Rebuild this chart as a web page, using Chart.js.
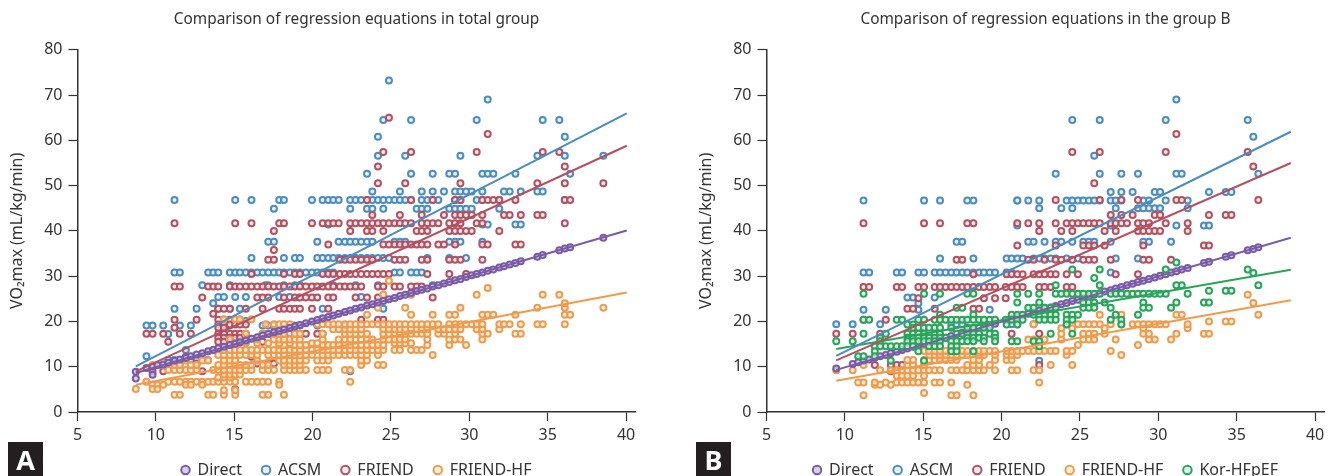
<!DOCTYPE html>
<html><head><meta charset="utf-8">
<script src="https://cdn.jsdelivr.net/npm/chart.js@4/dist/chart.umd.min.js"></script>
<style>
html,body{margin:0;padding:0;background:#fff;width:1333px;height:476px;overflow:hidden}
.panel{position:absolute;top:0}
.badge{position:absolute;top:442px;width:35px;height:34px;background:#231f20;color:#fff;font:bold 27px "Noto Sans",sans-serif;line-height:36px;text-align:center}
</style></head><body>
<canvas id="a" class="panel" style="left:0"></canvas>
<canvas id="b" class="panel" style="left:689px"></canvas>
<div class="badge" style="left:8px">A</div>
<div class="badge" style="left:696px">B</div>
<script>
const titleA = 'Comparison of regression equations in total group';
const titleB = 'Comparison of regression equations in the group B';
const yTitle = 'VO\u2082max (mL/kg/min)';
const xTicksMin = 5, xTicksMax = 40.6, yTicksMax = 80;

// Each row: [y value, [x values at that y]]
const aACSM = [
 [46.8,[11.19,15.06,16.1,17.87,18.17,19.96,20.64,21,21.32,21.66,22.4,22.74,23.1,23.47,23.81,24.17,24.51,24.87,25.23,25.57,25.91,26.28,26.96,27.32,27.66,28.02,29.09,29.43,30.47,30.83,31.91,36.09]],
 [44.9,[17.53,22.4,23.47,23.81,24.51,26.64,26.96,27.32,28.72,29.09,29.43,29.79,30.15,31.91]],
 [48.7,[23.81,25.57,26.96,27.66,28.38,29.09,29.43,29.79,30.15,30.83,32.21,32.57,33.28,34.34,34.68]],
 [52.6,[23.47,26.28,27.66,28.72,29.09,30.83,31.17,31.53,32.94,36.43]],
 [56.6,[24.17,25.91,29.43,34.34,36.09,38.55]],
 [60.8,[24.17,36.09]],
 [64.5,[24.51,26.28,30.47,34.68,35.74]],
 [69,[31.17]],
 [73.2,[24.87]],
 [41.4,[21,30.83,31.17,32.94,33.28]],
 [37.6,[17.17,17.53,20.3,21.66,22.06,22.4,22.74,23.1,23.47,23.81,25.23,25.57,25.91,28.72,29.09,29.43,30.83]],
 [34,[16.1,18.17,18.87,19.19,20.3,20.64,21,21.32,21.66,22.06,22.4,22.74,23.1,23.47,23.81,24.17,24.51,24.87,27.32,28.72,29.79]],
 [30.8,[11.19,11.53,13.34,13.66,13.98,14.72,15.06,15.36,15.74,16.1,16.47,16.81,17.17,17.53,17.87,18.17,18.55,18.87,19.19,19.57,19.96,20.3,20.64,21,21.32,25.23,25.57,26.28,26.64,26.96]],
 [28,[12.96,14.72,17,17.17,18.17,18.87,19.19,21.32,22.74,24.17,27.66]],
 [25.4,[13.98,14.34,15.06,15.74,17.87,18.55,23.1]],
 [24,[13.66]],
 [22.8,[11.19,12.6,13.98,14.72,15.36,20.64,24.51]],
 [20.1,[14.34,14.72,15.36,15.74]],
 [19.1,[9.4,9.79,10.47,11.53,12.23,14.34,14.72,16.81,17.17,17.53,18.87,19.19,20.3,22.06]],
 [17.2,[10.79]],
 [16,[14.72,15.06,15.36,15.74]],
 [13.7,[11.91]],
 [12.3,[9.4]],
 [11.5,[10.79,11.19,11.53,12.23,12.6,13.3]],
 [9,[22.4]]
];
const aFRIEND = [
 [41.7,[11.19,15.06,16.1,17.87,18.17,19.96,20.64,21,21.32,21.66,22.4,22.74,23.1,23.47,23.81,24.17,24.51,24.87,25.23,25.57,25.91,26.28,26.96,27.32,27.66,28.02,28.72,29.09,29.43,30.47,30.83,36.09]],
 [43.5,[23.81,25.57,26.96,28.38,29.09,29.43,29.79,30.15,30.83,32.21,32.57,33.28,34.34,34.68]],
 [40,[17.53,22.4,23.47,23.81,24.51,26.64,26.96,27.32,28.72,29.09,29.43,29.79,30.15,31.91]],
 [46.8,[23.47,26.28,27.66,29.09,29.43,30.83,31.17,31.53,31.91,32.94,36.09,36.43]],
 [50.5,[24.17,25.91,29.43,34.34,36.09,38.55]],
 [54.2,[24.17,36.09]],
 [57.4,[24.51,26.28,30.47,34.68,35.74]],
 [61.4,[31.17]],
 [65,[24.87]],
 [37,[21,24.51,24.87,25.23,25.57,25.91,26.28,26.64,26.96,27.32,28.02,28.38,29.09,30.83,31.17,32.94,33.28]],
 [35.8,[17.53]],
 [33.6,[17.17,17.53,21.74,22.06,22.4,22.74,23.1,23.47,23.81,25.23,25.57,25.91,26.96,27.32,28.72,29.09,29.43,30.83]],
 [30.5,[16.1,18.17,18.87,19.19,20.64,21,21.32,21.74,22.06,22.4,22.74,23.1,23.47,23.81,24.17,24.51,24.87,27.32,28.72,29.79]],
 [27.7,[11.19,11.53,13.34,13.66,13.98,14.72,15.06,15.36,15.74,16.1,16.47,16.81,17.17,17.53,17.87,18.17,18.55,18.87,19.19,19.57,19.96,20.3,20.64,21,21.32,21.74,22.06,22.4,22.74,23.1,24.17,24.51,25.23,25.57,26.28,26.64,26.96]],
 [25.3,[12.96,16.47,16.81,17.17,18.17,18.87,19.19,19.57,19.96,20.3,21,21.32,22.74,23.47,24.17,27.66]],
 [22.8,[13.98,14.34,14.72,15.74,16.81,17.87,18.17,18.55,18.87,19.19,19.96,21]],
 [21.7,[13.66]],
 [20.4,[11.19,12.6,13.98,14.34,14.72,15.06,15.36,23.1,24.17,24.51]],
 [19.3,[13.98,14.34,14.72,15.06,15.36,15.74]],
 [18.6,[11.19,13.98,14.34]],
 [17.3,[9.4,9.79,10.47,11.53,12.23,13.98,14.34,14.72,15.06,15.36,15.74,16.81,17.17,17.53,17.87,18.17,18.55,18.87,19.19,19.57,20.3,20.64]],
 [16.4,[13.98,14.34,14.72,15.06,15.36,15.74]],
 [15.5,[10.79,13.98,14.34,15.74,16.81]],
 [12.2,[11.91,16.1]],
 [10.7,[11.19,11.53,12.6,16.47,17.17,17.53]],
 [9,[9.79,10.47,12.96]],
 [5,[15.06]]
];
const aHF = [
 [3.8,[11.19,11.53,13.34,13.66,14.34,15.06,16.81,17.17,18.17]],
 [4.8,[14.34,15.06]],
 [6.7,[9.4,10.79,11.19,11.53,11.91,12.23,12.6,12.96,13.34,13.66,13.98,14.34,14.72,15.06,15.74,16.1,16.47,16.81,17.17,17.87,22.4]],
 [6,[9.79,10.1,10.47,11.91,12.23,12.96,17.87]],
 [5.1,[8.72,9.79,10.1]],
 [7.6,[13.98,14.34,14.72]],
 [8.3,[14.34,14.72,15.06,15.36]],
 [9.3,[10.79,11.19,11.53,11.91,12.23,12.6,13.66,13.98,14.34,14.72,15.06,15.36,15.74,16.1,16.81,17.17,17.53,18.17,18.55,18.87,19.19,19.57,20.3,20.64,21,22.06,22.4]],
 [10.4,[9.79,10.47,11.19,11.53,12.23,12.6,13.98,14.34,14.72,15.06,15.36,15.74,16.1,16.81,17.17,18.17,18.55,18.87,19.19,23.1,24.17,24.51]],
 [11.4,[11.91,12.96,13.34,14.34,14.72,15.06,16.47,17.87,18.17,18.55,18.87,19.19,19.57,20.3,20.64,21,23.1,23.47]],
 [12.6,[13.98,14.34,14.72,15.06,15.36,15.74,16.1,16.47,17.17,17.53,17.87,18.17,18.55,18.87,19.19,19.57,19.96,20.64,21,21.32,21.66,22.06,22.4,22.74,23.1,23.47,24.17,27.66]],
 [13.7,[13.66,14.34,14.72,15.06,15.36,15.74,16.1,16.47,16.81,17.17,17.53,17.87,18.17,18.55,18.87,19.19,19.57,19.96,20.3,20.64,21,21.32,21.66,22.06,22.4,22.74,23.1,23.47,23.81,24.17,24.51,25.23,25.57,26.28,26.64,26.96]],
 [14.8,[17.87,18.17,18.87,19.19,19.57,20.64,21,21.32,21.66,22.06,22.4,22.74,23.1,23.47,23.81,24.17,24.51,27.32,28.72,29.79]],
 [15.2,[15.06,15.74,16.47,17.17,17.87,18.55,19.96,20.3,25.23,25.57,25.91,26.28]],
 [16,[14.72,16.47,17.53,17.87,18.17,18.55,18.87,19.19,20.64,21.66,22.06,22.4,22.74,23.1,23.47,23.81,24.51,24.87,25.23,25.57,25.91,27.32,28.72,29.09,29.43,30.83]],
 [17.3,[15.74,16.81,17.17,17.53,17.87,18.17,18.87,19.19,20.64,22.06,22.4,22.74,23.1,23.47,24.51,24.87,25.23,25.57,25.91,26.28,26.64,26.96,27.32,28.02,28.38,29.09,30.83,31.17,32.94,33.28]],
 [18.3,[21.32,21.66,22.06,22.4,22.74,23.1,24.51,24.87,25.23,25.57,25.91,26.64,26.96,27.32,28.02,28.38,28.72,29.09,29.43,30.47,30.83,31.91]],
 [19.4,[17,17.53,17.87,18.17,18.55,20.3,20.64,21,21.32,21.66,22.06,22.4,22.74,23.1,23.47,23.81,24.17,24.51,24.87,25.23,25.57,25.91,26.28,26.64,26.96,27.32,27.66,28.02,28.72,29.09,29.43,29.79,30.15,30.47,30.83,31.91,32.21,32.57,33.28,34.34,34.68,36.09]],
 [20.5,[14.34,15.06,15.36,16.1,20.64]],
 [21.5,[23.47,26.28,27.66,28.72,29.09,30.83,31.17,31.53,32.94,36.09,36.43]],
 [23,[24.17,25.91,29.43,34.34,36.09,38.55]],
 [24,[36.09]],
 [25.9,[24.51,26.28,30.47,34.68,35.74]],
 [27.4,[31.17]],
 [29,[24.87]]
];
const aDirectX = [8.72,8.72,9.4,9.79,9.79,10.1,10.47,10.79,11.19,11.53,11.91,12.23,12.6,12.96,13.34,13.66,13.98,14.34,14.72,15.06,15.36,15.74,16.1,16.47,16.81,17.17,17.53,17.87,18.17,18.55,18.87,19.19,19.57,19.96,20.3,20.64,21,21.32,21.66,22.06,22.4,22.74,23.1,23.47,23.81,24.17,24.51,24.87,25.23,25.57,25.91,26.28,26.64,26.96,27.32,27.66,28.02,28.38,28.72,29.09,29.43,29.79,30.15,30.47,30.83,31.17,31.53,31.91,32.21,32.57,32.94,33.28,34.34,34.68,35.74,36.09,36.43,38.55];
const aDirectY = [8.9,7.4,9.7,10,8.2,10.3,10.5,10.9,11.3,11.6,11.9,12.3,12.7,13,13.4,13.7,14.1,14.4,14.8,15.1,15.4,15.8,16.2,16.5,16.9,17.2,17.6,17.9,18.2,18.6,18.9,19.2,19.6,20,20.3,20.7,21,21.3,21.7,22.1,22.4,22.8,23.1,23.5,23.8,24.2,24.5,24.9,25.2,25.6,25.9,26.3,26.7,27,27.3,27.7,28,28.4,28.7,29.1,29.4,29.8,30.2,30.5,30.8,31.2,31.5,31.9,32.2,32.6,32.9,33.3,34.3,34.7,35.7,36.1,36.4,38.5];
const aLineX = [8.72,40.04];
const aLineDirect = [8.6,40.07];
const aLineACSM = [10.07,65.96];
const aLineFRIEND = [8.97,58.8];
const aLineHF = [6,26.4];

const bACSM = [
 [46.7,[11.19,15.05,16.07,17.81,18.2,21,21,21.7,22.4,24.15,24.51,24.87,25.21,25.57,25.91,26.26,26.96,27.28,27.64,29.04,29.4,30.47,31.87]],
 [48.6,[26.96,27.64,28.36,29.77,30.11,33.23,34.3,34.66]],
 [45,[22.4,23.81,24.51,27.28,28.7,29.04,29.4,29.77,30.11,31.87]],
 [52.6,[23.45,26.26,27.64,28.7,31.15,31.49,36.38]],
 [56.6,[25.91]],
 [60.8,[36.06]],
 [64.5,[24.51,26.26,30.47,35.7]],
 [69,[31.15]],
 [41.2,[21,26.96,31.15,32.91,33.23]],
 [37.6,[17.13,17.49,21.7,22.04,22.74,23.45,23.81,24.51,25.21,25.57,25.91,26.96,29.04,29.4,30.81]],
 [33.9,[16.07,18.2,20.32,20.64,21,21.34,22.04,22.4,22.74,23.13,23.45,24.15,24.87,27.28,28.7]],
 [30.8,[11.19,11.55,13.31,13.65,14.69,15.05,15.73,16.07,16.43,16.79,17.13,17.49,17.81,18.2,18.56,18.87,19.24,19.58,20.32,20.64,26.96]],
 [25.3,[13.99,14.35,15.73]],
 [22.6,[11.19,12.61,14.69,19.24]],
 [24,[14.69]],
 [19.4,[9.45,10.5,12.25,16.79,17.13,17.49,20.64,21,22.04]],
 [11.3,[22.4]]
];
const bFRIEND = [
 [41.7,[11.19,15.05,16.07,17.81,18.2,21,21.7,22.4,23.45,24.15,24.51,24.87,25.21,25.57,25.91,26.26,26.96,27.28,27.64,28,28.7,29.04,29.4,30.47,31.87]],
 [43.5,[26.96,27.64,28.36,29.77,30.11,33.23,34.3,34.66]],
 [40,[22.4,23.81,24.51,26.57,27.28,28.7,29.04,29.4,29.77,30.11,31.87]],
 [46.8,[23.45,26.26,27.64,28.7,31.15,31.49,36.38]],
 [50.5,[25.91]],
 [54.2,[36.06]],
 [57.4,[24.51,26.26,30.47,35.7]],
 [61.4,[31.15]],
 [36.8,[21,23.45,25.21,25.57,25.91,26.57,29.04,32.91,33.23]],
 [33.6,[17.13,17.49,21.7,22.04,22.74,23.45,23.81,24.51,25.21,25.57,25.91,26.96,29.04,29.4,30.81]],
 [30.4,[18.2,20.32,20.64,21,21.34,22.04,22.4,22.74,23.13,23.45,24.15,24.87,27.28,28.7]],
 [27.6,[11.19,11.55,13.31,13.65,14.69,15.05,15.73,16.07,16.43,16.79,17.13,17.49,17.81,18.2,18.56,18.87,19.24,19.58,20.26,20.64,21,21.34,22.4,22.74,23.13,24.15,24.51]],
 [25.1,[14.69,18.87,19.58,20.26]],
 [22.8,[13.99,14.35,15.73,18.2,18.56]],
 [20.4,[11.19,12.61,16.07]],
 [17.3,[9.45,10.5,12.25,20.64,22.4]],
 [12,[16.07]],
 [10.4,[11.91,12.93,13.31,13.65,22.4]],
 [9,[12.93]]
];
const bHF = [
 [3.7,[11.19,16.79,17.13,18.2]],
 [4.2,[15.05]],
 [6,[11.91,12.25,12.93,17.81]],
 [6.5,[10.85,11.19,11.91,12.61,13.31,13.65,13.99,14.35,14.69,15.05,15.73,16.07,16.79,22.4]],
 [8,[13.31,13.65,13.99,14.35,15.05]],
 [9.2,[9.45,10.5,12.25,12.93,13.31,13.65,13.99,14.35,14.69,15.05,15.37,15.73,16.07,16.79,17.13,17.49,17.81,18.2,18.56,18.87,19.58,20.64,21,22.04,22.4]],
 [10.4,[11.19,13.99,14.35,15.05,17.81,18.2,18.56,19.24,23.13,24.51]],
 [11.5,[13.99,14.35,15.05,15.37,15.73,16.07,16.43,16.79,17.13,18.2,18.56,19.58,20.32,20.64]],
 [12.6,[15.4,15.73,16.07,16.43,16.79,17.13,17.49,17.81,18.56,18.87,19.58,20.32,20.64,21,24.15,27.64]],
 [13.5,[15.05,15.37,15.73,16.07,16.43,16.79,17.13,17.49,17.81,18.2,18.56,18.87,19.24,19.58,20.32,20.64,21,21.34,21.7,22.04,22.4,22.74,23.13,23.45,24.15,24.51,26.96]],
 [14.8,[24.87,28.7]],
 [16,[21.7,22.04,22.74,23.81,25.21,25.57,25.91,27.28,29.4,29.77,30.81]],
 [17.3,[23.81,25.21,25.57,25.91,26.57,29.04,29.4,31.15,32.91,33.23]],
 [18.5,[23.81,24.51,26.57,29.04,31.87]],
 [19.4,[21,22.04,24.15,24.87,25.21,25.57,25.91,26.26,26.96,27.64,28.36,28.7,29.04,29.4,29.77,30.11,30.47,31.87]],
 [20,[33.23,34.3,34.66]],
 [21.5,[26.26,27.64,31.15,31.49,36.38]],
 [24.1,[36.06]],
 [25.9,[35.7]]
];
const bKOR = [
 [26.1,[11.19,15.05,16.07,17.81,18.2,21,21.7,22.4,23.45,23.81,24.15,24.51,24.87,25.21,25.57,25.91,26.26,26.96,27.28,27.64,28,28.36,28.7,29.04,29.4,29.77,30.11,30.47,31.87]],
 [28,[23.45,26.26,31.15,31.49,36.38]],
 [29.6,[25.91]],
 [31.5,[24.51,26.26,30.47,35.7]],
 [30.7,[36.06]],
 [33,[31.15]],
 [26.8,[33.23,34.3,34.66]],
 [24.2,[21,22.4,25.21,25.57,25.91,26.57,29.04,31.15,32.91,33.23]],
 [23,[17.13,17.49,21.7,22.04,22.74,23.13,23.45,25.21,25.57,25.91,26.96,29.04,29.4,30.81]],
 [21.5,[16.07,18.2,20.64,21,21.34,22.04,22.4,22.74,23.13,23.45,24.15,24.51,24.87,27.28,28.7]],
 [20.4,[11.19,11.55,13.31,13.65,14.69,15.05,15.73,16.07,16.43,16.79,17.13,17.49,17.81,18.2,18.56,18.87,19.24,19.58,20.26,20.64,21,21.34,22.4,22.74,23.13,23.45,24.15,24.51,26.96,27.64]],
 [19.3,[13.99,14.35,20.32,21,24.15,27.64]],
 [18.6,[14.35,14.69,15.05,15.37,15.73,16.07,16.79,17.81,18.2,18.56,18.87,19.24]],
 [17.3,[11.19,12.61,13.99,14.35,14.69,15.05,15.73,16.07,17.13,17.49,17.81,18.2,18.56,19.24,19.58,23.13,24.51]],
 [16.4,[12.25,13.99,14.35,14.69,15.05,15.37,15.73,16.07,16.43,17.81,18.2,18.56,18.87,19.58]],
 [15.6,[9.45,10.5,12.25,13.99,14.35,14.69,15.05,15.37,15.73,16.07,16.79,17.13,17.49,17.81,18.2,18.87,19.58,20.64,21,22.04,22.4]],
 [14.5,[11.91,12.25,12.61,12.93,13.31,13.65,13.99,14.35,15.37,15.73,16.07,16.79,17.13,22.4]],
 [13.4,[11.91,14.69,16.79,17.13,18.2]],
 [12.3,[10.85,11.19,11.91]],
 [11.3,[12.93,15.05]]
];
const bDirectX = [9.45,10.5,10.85,11.19,11.55,11.91,12.25,12.61,12.93,13.31,13.65,13.99,14.35,14.69,15.05,15.37,15.73,16.07,16.43,16.79,17.13,17.49,17.81,18.2,18.56,18.87,19.24,19.58,20.32,20.64,21,21.34,21.7,22.04,22.4,22.74,23.13,23.45,23.81,24.15,24.51,24.87,25.21,25.57,25.91,26.26,26.57,26.96,27.28,27.64,28,28.36,28.7,29.04,29.4,29.77,30.11,30.47,30.81,31.15,31.49,31.87,32.91,33.23,34.3,34.66,35.7,36.06,36.38];
const bDirectY = [9.6,10.6,11,11.4,11.6,12,12.3,12.6,13,13.3,13.7,14,14.4,14.7,15.1,15.4,15.7,16.1,16.4,16.8,17.2,17.5,17.8,18.2,18.5,18.9,19.2,19.5,20.3,20.6,21,21.3,21.7,22,22.4,22.7,23.1,23.4,23.8,24.1,24.5,24.8,25.2,25.5,25.9,26.2,26.6,26.9,27.3,27.6,28,28.3,28.7,29,29.4,29.7,30.1,30.4,30.8,31.1,31.5,31.8,32.9,33.2,34.3,34.6,35.7,36,36.4];
const bLineX = [9.45,38.45];
const bLineDirect = [9.3,38.5];
const bLineACSM = [12.4,61.9];
const bLineFRIEND = [11.4,55];
const bLineHF = [6.9,24.7];
const bLineKOR = [13.9,31.4];

const namesA = ['Direct','ACSM','FRIEND','FRIEND-HF'];
const namesB = ['Direct','ASCM','FRIEND','FRIEND-HF','Kor-HFpEF'];
const colPurple='#7a5ba8', colBlue='#4b8cc2', colRed='#b4505f', colOrange='#ef9b4e', colGreen='#2aa45a';
const fillOf = {[colPurple]:'rgba(205,190,225,.75)',[colBlue]:'rgba(225,238,248,.75)',[colRed]:'rgba(248,228,230,.75)',[colOrange]:'rgba(252,232,205,.7)',[colGreen]:'rgba(215,242,225,.75)'};

const flat = rows => rows.flatMap(([y,xs]) => xs.map(x => ({x,y})));
const zip = (xs,ys) => xs.map((x,i) => ({x,y:ys[i]}));
function pts(label,data,color,order){
  return {label,data,borderColor:color,backgroundColor:fillOf[color],pointRadius:3,pointHoverRadius:3,borderWidth:2,showLine:false,order};
}
function line(label,xs,ys,color,order){
  return {label:label+' fit',data:zip(xs,ys),borderColor:color,backgroundColor:color,pointRadius:0,borderWidth:2,showLine:true,order};
}
const font = '"Noto Sans",sans-serif', ink='#333333';
function make(id,title,datasets){
  const c = document.getElementById(id);
  return new Chart(c,{type:'scatter',data:{datasets},options:{
    responsive:false,animation:false,devicePixelRatio:1,
    layout:{padding:{left:0,right:8.5,top:0,bottom:0}},
    plugins:{
      tooltip:{enabled:false},
      title:{display:true,text:title,color:ink,fullSize:false,font:{family:font,size:15.4,weight:'normal'},padding:{top:10,bottom:21.3}},
      legend:{position:'bottom',fullSize:false,labels:{
        filter:i=>!i.text.endsWith(' fit'),sort:(p,q)=>p.datasetIndex-q.datasetIndex,usePointStyle:true,pointStyle:'circle',boxWidth:8,boxHeight:6,padding:20,
        color:ink,font:{family:font,size:16}}}
    },
    scales:{
      x:{type:'linear',min:xTicksMin,max:xTicksMax,
        afterFit:s=>{s.height=30},
        border:{color:ink,width:1.5},
        grid:{drawOnChartArea:false,tickLength:9,color:ink,tickWidth:1.2},
        ticks:{stepSize:5,includeBounds:false,color:ink,padding:5,maxRotation:0,font:{family:font,size:16}}},
      y:{type:'linear',min:0,max:yTicksMax,
        afterFit:s=>{s.width=77.5},
        border:{color:ink,width:1.5},
        grid:{drawOnChartArea:false,tickLength:9,color:ink,tickWidth:1.2},
        ticks:{stepSize:10,color:ink,padding:6,font:{family:font,size:16}},
        title:{display:true,text:yTitle,color:ink,padding:{top:8,bottom:0},font:{family:font,size:16}}}
    }
  }});
}
for(const id of ['a','b']){const c=document.getElementById(id);c.width=644;c.height=488;c.style.width='644px';c.style.height='488px';}
make('a',titleA,[
  pts(namesA[0],zip(aDirectX,aDirectY),colPurple,3),
  pts(namesA[1],flat(aACSM),colBlue,6),
  pts(namesA[2],flat(aFRIEND),colRed,5),
  pts(namesA[3],flat(aHF),colOrange,4),
  line(namesA[0],aLineX,aLineDirect,colPurple,1),
  line(namesA[1],aLineX,aLineACSM,colBlue,1),
  line(namesA[2],aLineX,aLineFRIEND,colRed,1),
  line(namesA[3],aLineX,aLineHF,colOrange,1)
]);
make('b',titleB,[
  pts(namesB[0],zip(bDirectX,bDirectY),colPurple,4),
  pts(namesB[1],flat(bACSM),colBlue,7),
  pts(namesB[2],flat(bFRIEND),colRed,6),
  pts(namesB[3],flat(bHF),colOrange,5),
  pts(namesB[4],flat(bKOR),colGreen,2),
  line(namesB[0],bLineX,bLineDirect,colPurple,1),
  line(namesB[1],bLineX,bLineACSM,colBlue,1),
  line(namesB[2],bLineX,bLineFRIEND,colRed,1),
  line(namesB[3],bLineX,bLineHF,colOrange,1),
  line(namesB[4],bLineX,bLineKOR,colGreen,1)
]);
</script>
</body></html>
